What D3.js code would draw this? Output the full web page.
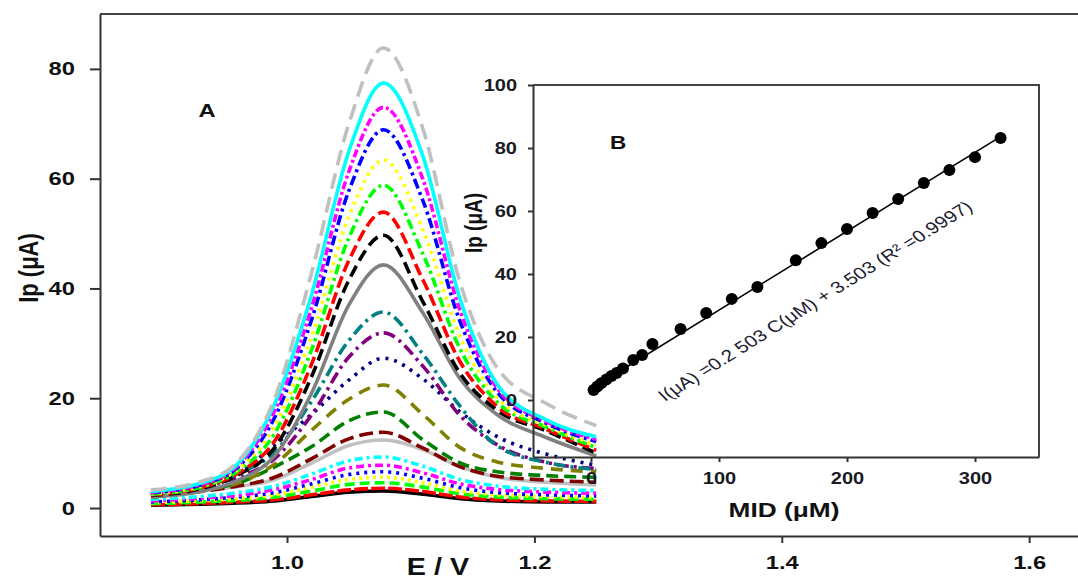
<!doctype html>
<html lang="en">
<head>
  <meta charset="utf-8">
  <title>DPV of MID - D3</title>
  <style>
    body { margin: 0; background: #fff; }
    svg { display: block; font-family: "Liberation Sans", Arial, sans-serif; }
  </style>
</head>
<body>
  <svg></svg>
  <script src="https://cdn.jsdelivr.net/npm/d3@7"></script>
  <script>
    // potential axis (V) shared by every voltammogram
    var potential = [0.89, 0.93, 0.96, 0.99, 1.02, 1.05, 1.078, 1.11, 1.14, 1.17, 1.21, 1.25];

    // peak currents (uA), smallest to largest
    var ip01 = [0.5, 0.7, 0.9, 1.3, 2.1, 2.9, 3.1, 2.5, 1.7, 1.3, 1.1, 1.1];
    var ip02 = [0.6, 0.8, 1.1, 1.5, 2.4, 3.3, 3.6, 3.0, 2.0, 1.5, 1.3, 1.2];
    var ip03 = [0.8, 1.1, 1.4, 2.0, 3.1, 4.3, 4.6, 3.8, 2.6, 2.0, 1.7, 1.6];
    var ip04 = [1.0, 1.3, 1.7, 2.4, 3.8, 5.2, 5.6, 4.6, 3.1, 2.4, 2.1, 1.9];
    var ip05 = [1.1, 1.5, 2.0, 2.8, 4.4, 6.1, 6.6, 5.4, 3.7, 2.8, 2.4, 2.2];
    var ip06 = [1.3, 1.8, 2.3, 3.4, 5.2, 7.3, 7.8, 6.4, 4.4, 3.4, 2.9, 2.7];
    var ip07 = [1.6, 2.1, 2.8, 4.0, 6.2, 8.6, 9.3, 7.6, 5.2, 4.0, 3.4, 3.2];
    var ip08 = [2.9, 3.3, 3.9, 5.2, 8.2, 11.4, 12.4, 10.6, 7.5, 5.6, 4.7, 4.2];
    var ip09 = [2.0, 3.0, 4.0, 5.6, 9.0, 12.6, 13.8, 10.9, 7.5, 5.8, 5.1, 4.7];
    var ip10 = [2.4, 3.3, 4.5, 7.5, 11.2, 15.9, 17.5, 12.4, 8.2, 6.6, 5.9, 5.6];
    var ip11 = [2.3, 3.2, 4.5, 8.0, 14.2, 19.8, 22.4, 17.0, 11.0, 8.4, 7.2, 6.6];
    var ip12 = [2.2, 4.0, 6.2, 11.5, 17.1, 23.3, 27.3, 23.5, 17.5, 13.0, 9.8, 7.8];
    var ip13 = [2.4, 3.8, 5.6, 9.0, 17.0, 27.5, 31.9, 25.8, 16.8, 11.5, 8.3, 7.2];
    var ip14 = [2.5, 4.0, 6.2, 10.2, 19.5, 30.5, 35.7, 28.0, 18.5, 11.3, 8.3, 7.0];
    var ip15 = [2.0, 3.0, 5.0, 9.5, 21.0, 37.0, 44.3, 35.5, 23.5, 17.0, 12.8, 9.5];
    var ip16 = [2.3, 3.5, 6.0, 11.0, 24.0, 41.5, 49.7, 37.5, 24.5, 17.8, 14.0, 10.0];
    var ip17 = [2.4, 3.7, 6.3, 12.2, 26.3, 45.1, 53.9, 41.5, 26.6, 18.5, 14.3, 10.5];
    var ip18 = [2.5, 3.8, 6.7, 13.6, 28.9, 49.2, 58.8, 46.2, 28.9, 19.3, 14.7, 11.0];
    var ip19 = [2.6, 4.0, 7.0, 15.0, 31.4, 53.1, 63.4, 50.6, 31.2, 20.1, 15.0, 11.5];
    var ip20 = [2.8, 4.2, 7.4, 16.5, 34.4, 57.8, 68.9, 55.9, 33.9, 21.1, 15.4, 12.1];
    var ip21 = [2.9, 4.3, 7.7, 17.7, 36.6, 61.3, 73.0, 59.8, 35.9, 21.8, 15.7, 12.5];
    var ip22 = [3.0, 4.5, 8.0, 19.0, 39.0, 65.0, 77.4, 64.0, 38.0, 22.5, 16.0, 13.0];
    var ip23 = [3.3, 4.8, 8.4, 20.0, 43.0, 70.0, 83.8, 69.0, 41.0, 25.5, 19.0, 15.0];
    var curves = [ip01, ip02, ip03, ip04, ip05, ip06, ip07, ip08, ip09, ip10, ip11, ip12,
      ip13, ip14, ip15, ip16, ip17, ip18, ip19, ip20, ip21, ip22, ip23];

    // calibration (inset B)
    var midConc = [2, 5, 8, 12, 16, 20, 25, 33, 40, 48, 70, 90, 110, 130, 160, 180, 200, 220, 240, 260, 280, 300, 320];
    var midIp = [3.2, 4.3, 5.3, 6.5, 7.6, 8.6, 10.0, 12.7, 14.3, 17.8, 22.5, 27.6, 32.1, 35.9, 44.4, 49.8, 54.3, 59.4, 63.8, 68.9, 73.0, 77.1, 83.2];
    var fitSlope = 0.2503, fitIntercept = 3.503;

    // ticks
    var mainXTicks = [1.0, 1.2, 1.4, 1.6];
    var mainYTicks = [0, 20, 40, 60, 80];
    var insetXTicks = [0, 100, 200, 300];
    var insetYTicks = [0, 20, 40, 60, 80, 100];

    // line styles (SigmaPlot-like cycle)
    var lineColors = ['#000000', '#ff0000', '#00ff00', '#ffff00', '#0000ff', '#ff00ff', '#00ffff',
      '#c0c0c0', '#800000', '#008000', '#808000', '#000080', '#800080', '#008080', '#808080',
      '#000000', '#ff0000', '#00ff00', '#ffff00', '#0000ff', '#ff00ff', '#00ffff', '#c0c0c0'];
    var lineDashes = ['', '14,3', '10,5', '3,4', '3,5', '8,4,3,4', '8,4,3,4',
      '', '14,6', '12,6', '12,8', '3,6', '12,5,3,5', '12,5,3,5', '',
      '12,6', '12,5', '10,4,3,4', '3,5', '10,4,3,4', '8,3,3,3', '', '16,8'];

    var width = 1078, height = 581;
    var sx = 1.25; // the figure is horizontally stretched, so glyphs are too
    var svg = d3.select('svg').attr('width', width).attr('height', height);

    function stretchTicks(g) {
      g.selectAll('text').each(function () {
        var t = d3.select(this);
        var x = +t.attr('x') || 0;
        t.attr('x', x / sx).attr('transform', 'scale(' + sx + ',1)');
      });
    }

    function label(x, y, txt, size, weight, rot) {
      return svg.append('text')
        .attr('transform', 'translate(' + x + ',' + y + ') scale(' + sx + ',1) rotate(' + (rot || 0) + ')')
        .attr('text-anchor', 'middle')
        .attr('font-size', size)
        .attr('font-weight', weight)
        .attr('fill', '#111')
        .text(txt);
    }

    // ---------- main chart A ----------
    var xScale = d3.scaleLinear().domain([0.8488, 1.65]).range([100, 1091]);
    var yScale = d3.scaleLinear().domain([-5.1, 90]).range([536, 14]);

    var line = d3.line()
      .x(function (v, i) { return xScale(potential[i]); })
      .y(function (v) { return yScale(v); })
      .curve(d3.curveMonotoneX);

    svg.append('g').selectAll('path').data(curves).enter()
      .append('path')
      .attr('fill', 'none')
      .attr('stroke', function (d, i) { return lineColors[i]; })
      .attr('stroke-dasharray', function (d, i) { return lineDashes[i] || null; })
      .attr('stroke-width', 3.6)
      .attr('d', line);

    // frame top line
    svg.append('line')
      .attr('x1', 100).attr('x2', 1091).attr('y1', 14).attr('y2', 14)
      .attr('stroke', '#444').attr('stroke-width', 2);

    var xAxis = svg.append('g')
      .attr('transform', 'translate(0,536)')
      .call(d3.axisBottom(xScale).tickValues(mainXTicks).tickFormat(d3.format('.1f'))
        .tickSize(7).tickPadding(13).tickSizeOuter(0));
    var yAxis = svg.append('g')
      .attr('transform', 'translate(100,0)')
      .call(d3.axisLeft(yScale).tickValues(mainYTicks).tickSize(10).tickPadding(15).tickSizeOuter(0));
    [xAxis, yAxis].forEach(function (g) {
      g.selectAll('.domain, line').attr('stroke', '#333').attr('stroke-width', 2);
      g.selectAll('text').attr('font-size', 19).attr('font-weight', 'bold')
        .attr('font-family', '"Liberation Sans", Arial, sans-serif').attr('fill', '#111');
      stretchTicks(g);
    });

    label(28, 268, 'Ip (μA)', 22, 'bold', -90).attr('dy', '0.35em');
    label(438, 575, 'E / V', 23, 'bold');
    label(207, 117, 'A', 19, 'bold');

    // ---------- inset B ----------
    var ix = d3.scaleLinear().domain([-45.3, 350]).range([533, 1039]);
    var iy = d3.scaleLinear().domain([-18.1, 100]).range([457, 85]);

    svg.append('path')
      .attr('d', 'M533,85H1039V457')
      .attr('fill', 'none').attr('stroke', '#444').attr('stroke-width', 2);

    var ixAxis = svg.append('g')
      .attr('transform', 'translate(0,457)')
      .call(d3.axisBottom(ix).tickValues(insetXTicks).tickSize(5).tickPadding(11).tickSizeOuter(0));
    var iyAxis = svg.append('g')
      .attr('transform', 'translate(533,0)')
      .call(d3.axisLeft(iy).tickValues(insetYTicks).tickSize(5).tickPadding(11).tickSizeOuter(0));
    [ixAxis, iyAxis].forEach(function (g) {
      g.selectAll('.domain, line').attr('stroke', '#333').attr('stroke-width', 2);
      g.selectAll('text').attr('font-size', 16).attr('font-weight', 'bold')
        .attr('font-family', '"Liberation Sans", Arial, sans-serif').attr('fill', '#1a1a22');
      stretchTicks(g);
    });

    // regression line
    svg.append('line')
      .attr('x1', ix(0)).attr('y1', iy(fitIntercept))
      .attr('x2', ix(d3.max(midConc))).attr('y2', iy(fitSlope * d3.max(midConc) + fitIntercept))
      .attr('stroke', '#000').attr('stroke-width', 1.6);

    svg.append('g').selectAll('circle').data(midIp).enter()
      .append('circle')
      .attr('cx', function (v, i) { return ix(midConc[i]); })
      .attr('cy', function (v) { return iy(v); })
      .attr('r', 6)
      .attr('fill', '#000');

    label(474, 223, 'Ip (μA)', 19, 'bold', -90).attr('dy', '0.35em');
    label(784, 517, 'MID (μM)', 21, 'bold');
    label(618, 149, 'B', 18, 'bold');

    label(815, 301, 'I(μA) =0.2 503 C(μM) + 3.503 (R² =0.9997)', 16.5, 'normal', -38)
      .attr('dy', '0.35em').attr('fill', '#1c2030');
  </script>
</body>
</html>
